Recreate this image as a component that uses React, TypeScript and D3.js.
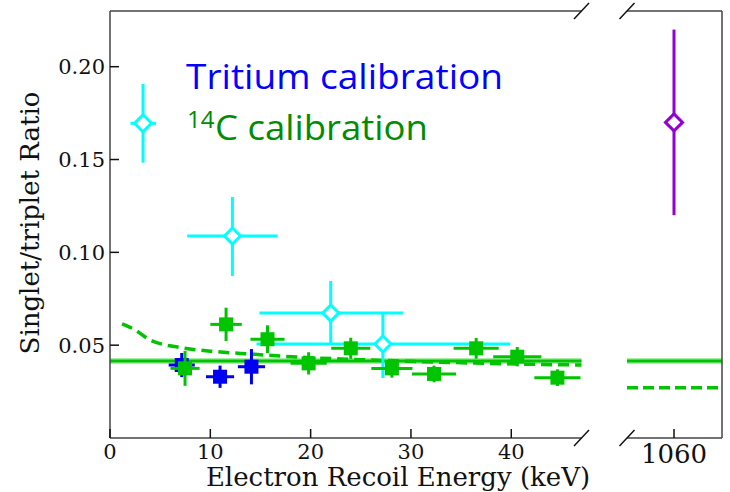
import React from "react";
import * as d3 from "d3";

// ---- data ----
const tritiumE = [7.15, 10.97, 14.1];
const tritiumEErr = [1.3, 1.4, 1.35];
const tritiumRatio = [0.0393, 0.033, 0.0384];
const tritiumRatioErr = [0.0065, 0.006, 0.0095];

const c14E = [7.48, 11.57, 15.7, 19.8, 24.0, 28.1, 32.3, 36.5, 40.6, 44.6];
const c14EErr = [1.45, 1.57, 1.7, 1.8, 1.95, 2.05, 2.2, 2.25, 2.4, 2.3];
const c14Ratio = [0.0375, 0.0612, 0.0532, 0.0402, 0.0483, 0.0375, 0.0345, 0.0483, 0.0438, 0.0325];
const c14RatioErr = [0.0094, 0.009, 0.0075, 0.006, 0.0057, 0.005, 0.0045, 0.0056, 0.0052, 0.0045];

const cyanE = [12.2, 22.0, 27.2];
const cyanELo = [4.5, 7.1, 12.6];
const cyanEHi = [4.5, 7.2, 12.7];
const cyanRatio = [0.1088, 0.0673, 0.0506];
const cyanRatioLo = [0.0215, 0.0161, 0.0183];
const cyanRatioHi = [0.021, 0.0173, 0.0173];

const highE = [1060];
const highRatio = [0.17];
const highRatioErr = [0.05];

const flatFit = 0.0415;
const dashedE = [1.2, 2.5, 4, 7.3, 10.6, 14, 19, 24, 30, 36, 42, 47];
const dashedRatio = [0.0615, 0.0582, 0.0528, 0.0485, 0.0465, 0.0452, 0.0435, 0.0424, 0.0413, 0.0404, 0.0397, 0.0393];
const dashedHigh = 0.027;

const xTicksLeft = [0, 10, 20, 30, 40];
const xTicksRight = [1060];
const yTicks = [0.05, 0.1, 0.15, 0.2];

// ---- layout ----
const W = 730, H = 492;
const L = 110, R = 722, T = 11, B = 438;
const breakL = 581.5, breakR = 627;

const xL = d3.scaleLinear().domain([0, 47]).range([L, breakL]);
const xR = d3.scaleLinear().domain([1055.3, 1064.8]).range([breakR, R]);
const y = d3.scaleLinear().domain([0, 0.23]).range([B, T]);

const GREEN = "#00c400";
const BLUE = "#0000f0";
const CYAN = "#00ffff";
const PURPLE = "#9400d3";
const serif = "DejaVu Serif";

function Diamond({ cx, cy, r, color }: { cx: number; cy: number; r: number; color: string }) {
  return (
    <path
      d={`M${cx - r},${cy} L${cx},${cy - r} L${cx + r},${cy} L${cx},${cy + r} Z`}
      fill="white"
      stroke={color}
      strokeWidth={3}
    />
  );
}

export default function App() {
  const dashLine = d3
    .line<number>()
    .x((_, i) => xL(dashedE[i]))
    .y((d) => y(d))
    .curve(d3.curveMonotoneX)(dashedRatio) as string;

  const slash = (x: number, yy: number, k: string) => (
    <line key={k} x1={x - 7.5} y1={yy + 8} x2={x + 7.5} y2={yy - 8} stroke="#111" strokeWidth={1.5} />
  );

  return (
    <svg width={W} height={H} style={{ position: "absolute", left: 0, top: 0, background: "white" }}>
      {/* fit lines */}
      <g>
        <line x1={L} x2={breakL} y1={y(flatFit)} y2={y(flatFit)} stroke="#a8eea8" strokeWidth={6} />
        <line x1={breakR} x2={R} y1={y(flatFit)} y2={y(flatFit)} stroke="#a8eea8" strokeWidth={6} />
        <line x1={L} x2={breakL} y1={y(flatFit)} y2={y(flatFit)} stroke={GREEN} strokeWidth={3} />
        <line x1={breakR} x2={R} y1={y(flatFit)} y2={y(flatFit)} stroke={GREEN} strokeWidth={3} />
        <path d={dashLine} fill="none" stroke={GREEN} strokeWidth={3.5} strokeDasharray="11,6" />
        <line x1={breakR} x2={R} y1={y(dashedHigh)} y2={y(dashedHigh)} stroke={GREEN} strokeWidth={3.5} strokeDasharray="11,5" />
      </g>

      {/* cyan points */}
      <g>
        {cyanE.map((e, i) => (
          <g key={"c" + i}>
            <line x1={xL(e - cyanELo[i])} x2={xL(e + cyanEHi[i])} y1={y(cyanRatio[i])} y2={y(cyanRatio[i])} stroke={CYAN} strokeWidth={3} />
            <line x1={xL(e)} x2={xL(e)} y1={y(cyanRatio[i] - cyanRatioLo[i])} y2={y(cyanRatio[i] + cyanRatioHi[i])} stroke={CYAN} strokeWidth={3} />
            <Diamond cx={xL(e)} cy={y(cyanRatio[i])} r={8} color={CYAN} />
          </g>
        ))}
      </g>

      {/* tritium */}
      <g>
        {tritiumE.map((e, i) => (
          <g key={"t" + i}>
            <line x1={xL(e - tritiumEErr[i])} x2={xL(e + tritiumEErr[i])} y1={y(tritiumRatio[i])} y2={y(tritiumRatio[i])} stroke={BLUE} strokeWidth={3} />
            <line x1={xL(e)} x2={xL(e)} y1={y(tritiumRatio[i] - tritiumRatioErr[i])} y2={y(tritiumRatio[i] + tritiumRatioErr[i])} stroke={BLUE} strokeWidth={3} />
            <rect x={xL(e) - 7} y={y(tritiumRatio[i]) - 7} width={14} height={14} fill={BLUE} />
          </g>
        ))}
      </g>

      {/* 14C */}
      <g>
        {c14E.map((e, i) => (
          <g key={"g" + i}>
            <line x1={xL(e - c14EErr[i])} x2={xL(e + c14EErr[i])} y1={y(c14Ratio[i])} y2={y(c14Ratio[i])} stroke={GREEN} strokeWidth={3} />
            <line x1={xL(e)} x2={xL(e)} y1={y(c14Ratio[i] - c14RatioErr[i])} y2={y(c14Ratio[i] + c14RatioErr[i])} stroke={GREEN} strokeWidth={3} />
            <rect x={xL(e) - 7} y={y(c14Ratio[i]) - 7} width={14} height={14} fill={GREEN} />
          </g>
        ))}
      </g>

      {/* high energy point */}
      <g>
        {highE.map((e, i) => (
          <g key={"h" + i}>
            <line x1={xR(e)} x2={xR(e)} y1={y(highRatio[i] - highRatioErr[i])} y2={y(highRatio[i] + highRatioErr[i])} stroke={PURPLE} strokeWidth={3} />
            <Diamond cx={xR(e)} cy={y(highRatio[i])} r={8.5} color={PURPLE} />
          </g>
        ))}
      </g>

      {/* legend */}
      <g>
        <line x1={130.5} x2={156} y1={123.3} y2={123.3} stroke={CYAN} strokeWidth={3} />
        <line x1={143} x2={143} y1={84} y2={162.7} stroke={CYAN} strokeWidth={3} />
        <Diamond cx={143} cy={123.3} r={8.5} color={CYAN} />
        <text x={186} y={89.3} fontFamily="Open Sans" fontSize={35} fill="#0000ff" textLength={317} lengthAdjust="spacingAndGlyphs">
          Tritium calibration
        </text>
        <text x={187} y={128.3} fontFamily="Open Sans" fontSize={24} fill="#008c00">
          14
        </text>
        <text x={215} y={140} fontFamily="Open Sans" fontSize={35} fill="#008c00" textLength={213} lengthAdjust="spacingAndGlyphs">
          C calibration
        </text>
      </g>

      {/* spines */}
      <g stroke="#444" strokeWidth={1.5} fill="none">
        <line x1={L} x2={L} y1={T} y2={B} />
        <line x1={R} x2={R} y1={T} y2={B} />
        <line x1={L} x2={breakL} y1={T} y2={T} />
        <line x1={breakR} x2={R} y1={T} y2={T} />
        <line x1={L} x2={breakL} y1={B} y2={B} />
        <line x1={breakR} x2={R} y1={B} y2={B} />
      </g>
      {slash(breakL, T, "s1")}
      {slash(breakR, T, "s2")}
      {slash(breakL, B, "s3")}
      {slash(breakR, B, "s4")}

      {/* ticks */}
      <g stroke="#111" strokeWidth={1.5}>
        {yTicks.map((t) => (
          <line key={"yt" + t} x1={L} x2={L + 9} y1={y(t)} y2={y(t)} />
        ))}
        {xTicksLeft.map((t) => (
          <line key={"xt" + t} x1={xL(t)} x2={xL(t)} y1={B} y2={B - 9} />
        ))}
        {xTicksRight.map((t) => (
          <line key={"xr" + t} x1={xR(t)} x2={xR(t)} y1={B} y2={B - 9} />
        ))}
      </g>
      <g fontFamily={serif} fill="#111">
        {yTicks.map((t) => (
          <text key={"yl" + t} x={L - 5} y={y(t)} dy="0.36em" textAnchor="end" fontSize={21}>
            {d3.format(".2f")(t)}
          </text>
        ))}
        {xTicksLeft.map((t) => (
          <text key={"xl" + t} x={xL(t)} y={B + 21} textAnchor="middle" fontSize={21}>
            {t}
          </text>
        ))}
        {xTicksRight.map((t) => (
          <text key={"xrl" + t} x={xR(t)} y={B + 25} textAnchor="middle" fontSize={26}>
            {t}
          </text>
        ))}
        <text x={398} y={486} textAnchor="middle" fontSize={26}>
          Electron Recoil Energy (keV)
        </text>
        <text transform={`translate(39,223) rotate(-90)`} textAnchor="middle" fontSize={26}>
          Singlet/triplet Ratio
        </text>
      </g>
    </svg>
  );
}
